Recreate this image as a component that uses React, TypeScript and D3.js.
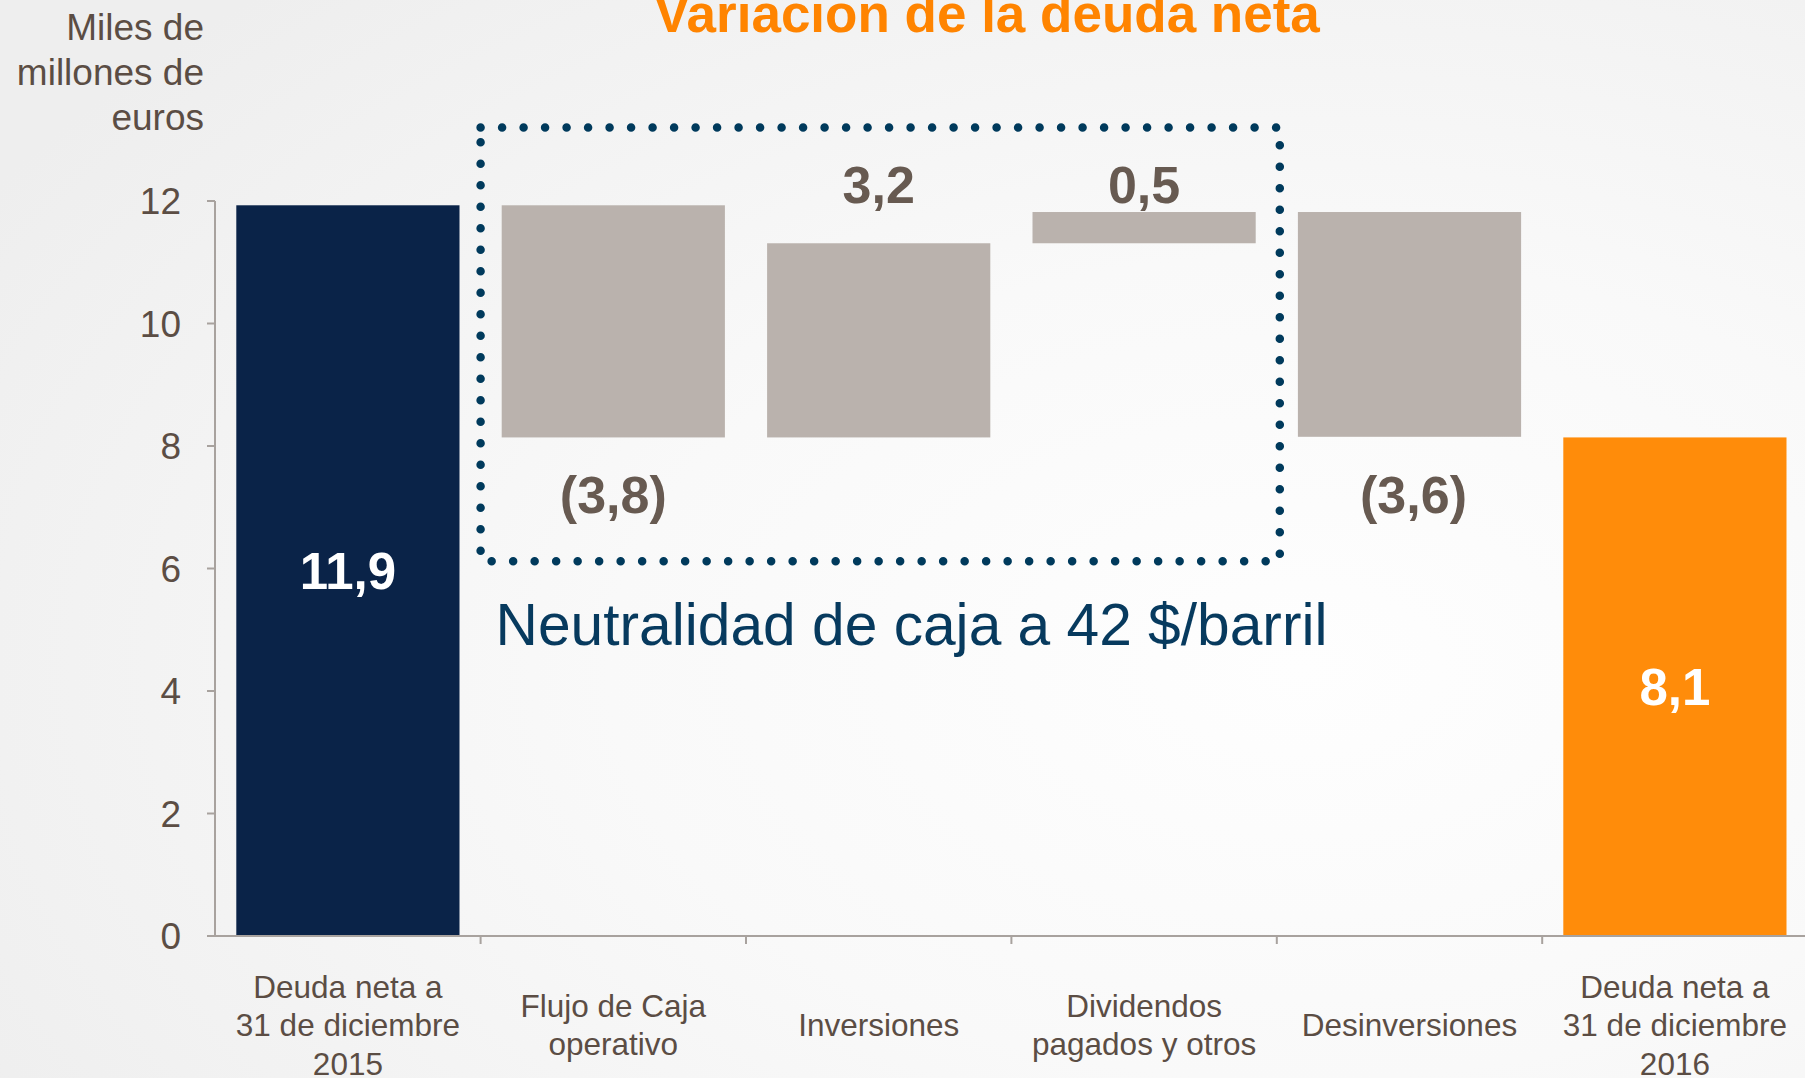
import React from "react";
import * as d3 from "d3";

const W = 1805;
const H = 1078;

const title = "Variacion de la deuda neta";
const unitLabel = ["Miles de", "millones de", "euros"];
const annotation = "Neutralidad de caja a 42 $/barril";

const categories = [
  ["Deuda neta a", "31 de diciembre", "2015"],
  ["Flujo de Caja", "operativo"],
  ["Inversiones"],
  ["Dividendos", "pagados y otros"],
  ["Desinversiones"],
  ["Deuda neta a", "31 de diciembre", "2016"],
];
// bar levels (miles de millones de euros)
const startValue = 11.93;
const changes = [-3.79, 3.17, 0.51, -3.67];
const endValue = 8.14;
// printed labels, as shown on the chart
const valueLabels = ["11,9", "(3,8)", "3,2", "0,5", "(3,6)", "8,1"];
const yTicks = [0, 2, 4, 6, 8, 10, 12];
const boxCategories = [1, 3]; // first and last category inside the dotted box

const FONT = "'Liberation Sans', Arial, sans-serif";
const NAVY = "#0a2348";
const ORANGE = "#ff8c0a";
const GREY = "#bab2ad";
const TEXT = "#5b4d44";
const VALUE = "#675a51";
const DOT = "#003a5c";
const AXIS = "#a8a29e";

type Bar = { i: number; y0: number; y1: number; kind: "start" | "end" | "delta"; value: number };

function buildBars(): Bar[] {
  const bars: Bar[] = [{ i: 0, y0: 0, y1: startValue, kind: "start", value: startValue }];
  let acc = startValue;
  changes.forEach((c, k) => {
    bars.push({ i: k + 1, y0: acc, y1: acc + c, kind: "delta", value: c });
    acc += c;
  });
  bars.push({ i: changes.length + 1, y0: 0, y1: endValue, kind: "end", value: endValue });
  return bars;
}

export default function App() {
  const ids = categories.map((_, i) => String(i));
  const pad = 0.159;
  const x = d3.scaleBand<string>().domain(ids).range([215.2, 1807.6]).paddingInner(pad).paddingOuter(pad / 2);
  const y = d3.scaleLinear().domain([0, 12]).range([936, 201]);
  const step = x.step();
  const bw = x.bandwidth();
  const bars = buildBars();
  const boundary = (i: number) => (x(String(i)) as number) - (step * pad) / 2;
  const axisX = 215;

  const bx0 = boundary(boxCategories[0]);
  const bx1 = boundary(boxCategories[1] + 1) + 3;
  const by0 = y(13.2);
  const by1 = y(6.12);

  return (
    <svg
      width={W}
      height={H}
      style={{ position: "absolute", left: 0, top: 0, display: "block" }}
      fontFamily={FONT}
    >
      <defs>
        <radialGradient id="bg" cx="0.72" cy="0.62" r="0.85">
          <stop offset="0" stopColor="#fefefe" />
          <stop offset="0.45" stopColor="#f9f9f9" />
          <stop offset="1" stopColor="#eeeeee" />
        </radialGradient>
      </defs>
      <rect x={0} y={0} width={W} height={H} fill="url(#bg)" />

      {/* title */}
      <text x={987} y={32} textAnchor="middle" fontSize={53} fontWeight="bold" fill="#ff8400">
        {title}
      </text>

      {/* unit label */}
      {unitLabel.map((t, i) => (
        <text key={i} x={204} y={40 + i * 45} textAnchor="end" fontSize={37} fill={TEXT}>
          {t}
        </text>
      ))}

      {/* y axis */}
      <line x1={axisX} x2={axisX} y1={y(12)} y2={y(0)} stroke={AXIS} strokeWidth={2} />
      {yTicks.map((t) => (
        <g key={t}>
          <line x1={axisX - 8} x2={axisX} y1={y(t)} y2={y(t)} stroke={AXIS} strokeWidth={2} />
          <text x={181} y={y(t) + 13} textAnchor="end" fontSize={37} fill={TEXT}>
            {t}
          </text>
        </g>
      ))}

      {/* bars */}
      {bars.map((b) => {
        const x0 = x(String(b.i)) as number;
        const top = y(Math.max(b.y0, b.y1));
        const bot = y(Math.min(b.y0, b.y1));
        const fill = b.kind === "start" ? NAVY : b.kind === "end" ? ORANGE : GREY;
        return <rect key={b.i} x={x0} y={top} width={bw} height={bot - top} fill={fill} />;
      })}

      {/* x axis */}
      <line x1={axisX - 8} x2={W} y1={y(0)} y2={y(0)} stroke={AXIS} strokeWidth={2} />
      {ids.slice(1).map((id, k) => (
        <line
          key={id}
          x1={boundary(k + 1)}
          x2={boundary(k + 1)}
          y1={y(0)}
          y2={y(0) + 8}
          stroke={AXIS}
          strokeWidth={2}
        />
      ))}

      {/* value labels */}
      {bars.map((b) => {
        const cx = (x(String(b.i)) as number) + bw / 2;
        if (b.kind !== "delta") {
          return (
            <text
              key={b.i}
              x={cx}
              y={y(b.value / 2) + 18}
              textAnchor="middle"
              fontSize={51}
              fontWeight="bold"
              fill="#ffffff"
            >
              {valueLabels[b.i]}
            </text>
          );
        }
        const ly = b.value < 0 ? y(6.9) : y(12) + 2;
        const dx = b.value < 0 && b.i > 2 ? 4 : 0;
        return (
          <text key={b.i} x={cx + dx} y={ly} textAnchor="middle" fontSize={52} fontWeight="bold" fill={VALUE}>
            {valueLabels[b.i]}
          </text>
        );
      })}

      {/* dotted box */}
      <path
        d={`M${bx0},${by0}H${bx1}V${by1}H${bx0}Z`}
        fill="none"
        stroke={DOT}
        strokeWidth={8.5}
        strokeLinecap="round"
        strokeDasharray="0 21.5"
      />
      <text x={bx0 + 15} y={645} fontSize={58.7} fill="#073a5e">
        {annotation}
      </text>

      {/* category labels */}
      {categories.map((lines, i) => {
        const cx = (x(String(i)) as number) + bw / 2;
        return (
          <text key={i} x={cx} textAnchor="middle" fontSize={31.5} fill={TEXT}>
            {lines.map((l, j) => (
              <tspan key={j} x={cx} y={1036 + (j - (lines.length - 1) / 2) * 38.5}>
                {l}
              </tspan>
            ))}
          </text>
        );
      })}
    </svg>
  );
}
